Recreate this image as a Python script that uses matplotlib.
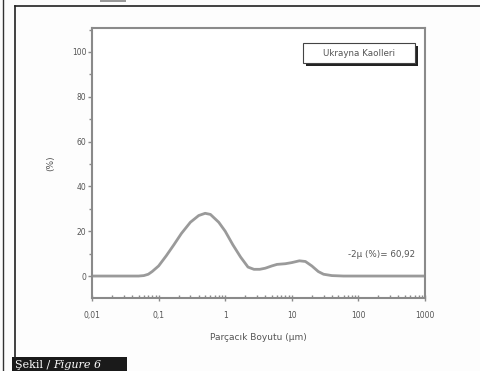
import matplotlib.pyplot as plt
from matplotlib.lines import Line2D
from matplotlib.patches import Rectangle

# particle size distribution
size_um = [0.01, 0.03, 0.05, 0.06, 0.07, 0.08, 0.1, 0.13, 0.17, 0.22, 0.3, 0.4,
           0.5, 0.6, 0.8, 1.0, 1.3, 1.7, 2.2, 2.7, 3.3, 4.0, 5.0, 6.0, 8.0, 10.0,
           13.0, 16.0, 20.0, 25.0, 30.0, 40.0, 60.0, 100.0, 1000.0]
percent = [0, 0, 0, 0.2, 0.8, 2.0, 4.5, 9.0, 14.0, 19.0, 24.0, 27.0,
           28.0, 27.5, 24.0, 20.0, 14.0, 8.5, 4.0, 3.0, 3.0, 3.5, 4.5, 5.2, 5.5, 6.0,
           6.8, 6.5, 4.5, 2.0, 0.8, 0.2, 0, 0, 0]

x_ticks = [0.01, 0.1, 1, 10, 100, 1000]
x_ticklabels = ['0,01', '0,1', '1', '10', '100', '1000']
y_ticks = [0, 20, 40, 60, 80, 100]

legend_text = 'Ukrayna Kaolleri'
note_text = '-2\u00b5 (%)= 60,92'

grey = '#8a8a8a'
txt = '#555555'

fig = plt.figure(figsize=(4.81, 3.71), dpi=100)
fig.patch.set_facecolor('#fdfdfd')
W, H = 481.0, 371.0

ax = fig.add_axes([92 / W, 1 - 298 / H, 333 / W, 270 / H])
ax.set_facecolor('white')
ax.plot(size_um, percent, color='#9a9a9a', linewidth=2.0)

ax.set_xscale('log')
ax.set_xlim(0.01, 1000)
ax.set_ylim(-9.8, 110.7)
ax.set_xticks(x_ticks)
ax.set_xticklabels(x_ticklabels)
ax.set_yticks(y_ticks)
ax.set_yticks([10, 30, 50, 70, 90, 110], minor=True)

for s in ax.spines.values():
    s.set_color(grey)
    s.set_linewidth(1.5)

ax.tick_params(axis='both', which='both', colors=grey, labelcolor=txt, labelsize=5.5)
ax.tick_params(axis='x', which='major', direction='inout', length=5, width=1, pad=7)
ax.tick_params(axis='x', which='minor', direction='in', length=2.5, width=1)
ax.tick_params(axis='y', which='major', direction='out', length=3, width=1, pad=1)
ax.tick_params(axis='y', which='minor', direction='out', length=2, width=1)

ax.set_xlabel('Parçacık Boyutu (µm)', fontsize=6.5, color=txt, labelpad=9)
ax.set_ylabel('(%)', fontsize=6.5, color=txt, labelpad=12)

# legend-like box with drop shadow
ax.add_patch(Rectangle((0.643, 0.859), 0.336, 0.074, transform=ax.transAxes,
                       facecolor='#222222', edgecolor='none', zorder=4))
ax.add_patch(Rectangle((0.634, 0.870), 0.336, 0.074, transform=ax.transAxes,
                       facecolor='white', edgecolor='#444444', linewidth=0.8, zorder=5))
ax.text(0.802, 0.907, legend_text, transform=ax.transAxes, ha='center', va='center',
        fontsize=6.3, color=txt, zorder=6)

ax.text(0.97, 0.16, note_text, transform=ax.transAxes, ha='right', va='center',
        fontsize=6.3, color=txt)

# page frame lines from the scan
fig.add_artist(Line2D([15 / W, 15 / W], [1 - 6 / H, 1 - 358 / H], color='#222222', linewidth=1.2))
fig.add_artist(Line2D([15 / W, 1.0], [1 - 6 / H, 1 - 6 / H], color='#222222', linewidth=1.2))
fig.add_artist(Line2D([3 / W, 3 / W], [1.0, 0.0], color='#333333', linewidth=1.0))
fig.add_artist(Rectangle((100 / W, 1 - 2 / H), 26 / W, 2 / H, transform=fig.transFigure,
                         facecolor='#999999', edgecolor='none'))

# caption box
fig.add_artist(Rectangle((12 / W, 0), 115 / W, 14 / H, transform=fig.transFigure,
                         facecolor='#1a1a1a', edgecolor='none'))
fig.text(15 / W, 1 / H, 'Şekil /', fontsize=8, color='white', family='DejaVu Serif',
         ha='left', va='bottom')
fig.text(53 / W, 1 / H, 'Figure 6', fontsize=8, color='white', family='DejaVu Serif',
         style='italic', ha='left', va='bottom')

fig.savefig('out.png', dpi=100)
